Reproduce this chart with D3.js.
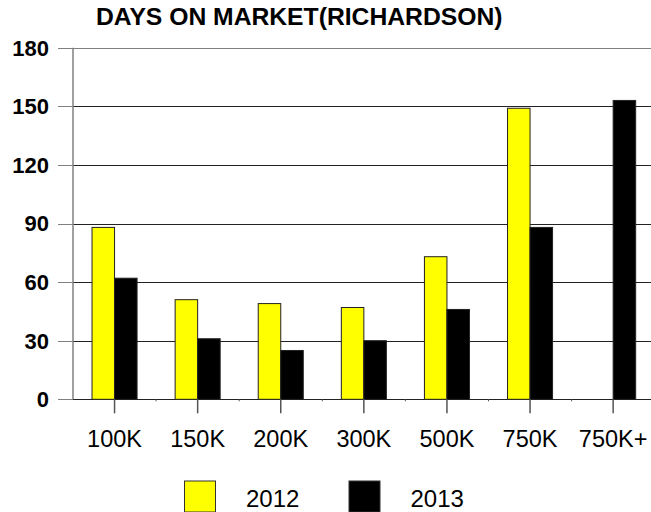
<!DOCTYPE html>
<html><head><meta charset="utf-8">
<script src="https://cdn.jsdelivr.net/npm/d3@7"></script>
<style>body{margin:0;background:#fff}svg{display:block;font-family:"Liberation Sans",Arial,sans-serif}</style>
</head><body><svg id="c" width="651" height="512"></svg>
<script>
const categories = ["100K","150K","200K","300K","500K","750K","750K+"];
const seriesNames = ["2012","2013"];
const values2012 = [88,51,49,47,73,149,null];
const values2013 = [62,31,25,30,46,88,153];
const yTicks = [0,30,60,90,120,150,180];
const colors = ["#FFFF00","#000000"];
const title = "DAYS ON MARKET(RICHARDSON)";

const svg = d3.select("#c");
const plotLeft = 73, plotTop = 47.7, plotBottom = 399.3;
const step = 83.1;
const x0 = d3.scaleBand().domain(categories).range([plotLeft, plotLeft + step*categories.length]).padding(0);
const groupW = x0.bandwidth()*0.542;
const x1 = d3.scaleBand().domain(seriesNames).range([x0.bandwidth()/2 - groupW/2, x0.bandwidth()/2 + groupW/2]).padding(0);
const y = d3.scaleLinear().domain([0,180]).range([plotBottom, plotTop]);

// gridlines
svg.append("g").selectAll("line").data(yTicks).join("line")
  .attr("x1", plotLeft - 15).attr("x2", 651)
  .attr("y1", d=>Math.round(y(d))+0.5).attr("y2", d=>Math.round(y(d))+0.5)
  .attr("stroke", d=> d===180 ? "#808080" : "#222").attr("stroke-width",1);
// left tick parts gray
svg.append("g").selectAll("line").data(yTicks).join("line")
  .attr("x1", plotLeft - 15).attr("x2", plotLeft)
  .attr("y1", d=>Math.round(y(d))+0.5).attr("y2", d=>Math.round(y(d))+0.5)
  .attr("stroke", "#808080").attr("stroke-width",1);
// y labels
svg.append("g").selectAll("text").data(yTicks).join("text")
  .attr("x", 49).attr("y", d=>y(d)).attr("dy","0.36em")
  .attr("text-anchor","end").attr("font-weight","bold").attr("font-size","22px")
  .text(d=>d);
// y axis line
svg.append("line").attr("x1",plotLeft).attr("x2",plotLeft).attr("y1",y(180)).attr("y2",y(0))
  .attr("stroke","#808080").attr("stroke-width",1.5);

// bars
const data = categories.map((c,i)=>({c, v:[values2012[i], values2013[i]]}));
const g = svg.append("g").selectAll("g").data(data).join("g")
  .attr("transform", d=>`translate(${x0(d.c)},0)`);
g.selectAll("rect").data(d=>d.v.map((v,j)=>({v, s:seriesNames[j], j})).filter(e=>e.v!=null)).join("rect")
  .attr("x", e=>x1(e.s)).attr("width", x1.bandwidth())
  .attr("y", e=>y(e.v)).attr("height", e=>y(0)-y(e.v))
  .attr("fill", e=>colors[e.j]).attr("stroke","#222").attr("stroke-width",1);

// x axis ticks
svg.append("g").selectAll("line").data(categories).join("line")
  .attr("x1", c=>x0(c)+x0.bandwidth()/2).attr("x2", c=>x0(c)+x0.bandwidth()/2)
  .attr("y1", y(0)).attr("y2", y(0)+14).attr("stroke","#555").attr("stroke-width",1.5);
svg.append("g").selectAll("line").data(categories.slice(1)).join("line")
  .attr("x1", c=>x0(c)).attr("x2", c=>x0(c))
  .attr("y1", y(0)).attr("y2", y(0)+2).attr("stroke","#555").attr("stroke-width",1);
// x labels
svg.append("g").selectAll("text").data(categories).join("text")
  .attr("x", c=>x0(c)+x0.bandwidth()/2).attr("y", 446.5)
  .attr("text-anchor","middle").attr("font-size","23.5px").text(c=>c);

// title
svg.append("text").attr("x",96).attr("y",25).attr("font-weight","bold")
  .attr("font-size","24.7px").text(title);

// legend
const legendX = [184.5, 349];
const lg = svg.append("g").selectAll("g").data(seriesNames).join("g")
  .attr("transform",(d,i)=>`translate(${legendX[i]},481)`);
lg.append("rect").attr("width",31).attr("height",31).attr("fill",(d,i)=>colors[i])
  .attr("stroke","#333").attr("stroke-width",1);
lg.append("text").attr("x",61.5).attr("y",25.5).attr("font-size","24px").text(d=>d);
</script></body></html>
